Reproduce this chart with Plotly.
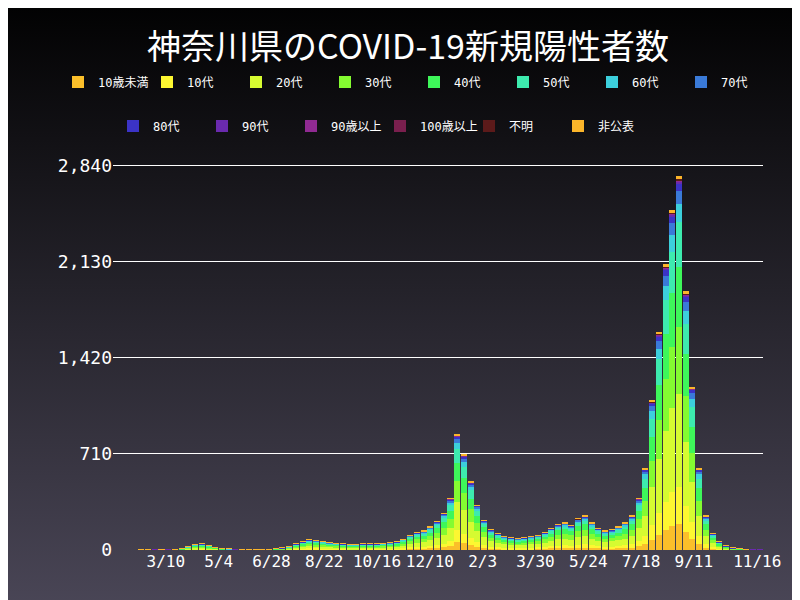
import base64
import pandas as pd
import plotly.graph_objects as go

# weekly (Mon start) daily-level case counts
week_start = pd.date_range("2020-01-13", periods=97, freq="7D")
totals = [
    0, 0, 0,
    0, 1, 3, 4,
    5, 4, 5, 10, 25,
    40, 45, 35, 20,
    12, 8, 4, 3,
    3, 3, 3, 5, 10,
    15, 25, 45, 60,
    75, 70, 65, 55, 50,
    45, 40, 40, 45,
    45, 45, 50, 55,
    60, 80, 110, 130, 140,
    170, 210, 270, 380,
    850, 700, 500, 330,
    220, 150, 120, 100,
    90, 85, 90, 100, 110,
    130, 160, 190, 200,
    180, 230, 250, 200, 160,
    140, 150, 170, 200,
    250, 380, 600, 1100,
    1600, 2100, 2500, 2750, 1900,
    1200, 600, 250, 120,
    60, 30, 15, 10,
    6, 4, 4,
]
groups = ["10歳未満", "10代", "20代", "30代", "40代", "50代", "60代", "70代",
          "80代", "90代", "90歳以上", "100歳以上", "不明", "非公表"]
shares = [0.07, 0.10, 0.25, 0.18, 0.16, 0.12, 0.05, 0.035,
          0.02, 0.005, 0.003, 0.0005, 0.002, 0.01]
colors = ["#fbbf2a", "#fdf731", "#d6fb31", "#84fb31", "#3ef75a", "#3debae",
          "#3ccfdc", "#3a7ad8", "#3b33c6", "#6a2aae", "#902a92", "#7a1f4e",
          "#5c1a1a", "#fbb52a"]
tick_dates = ["2020-03-10", "2020-05-04", "2020-06-28", "2020-08-22", "2020-10-16",
              "2020-12-10", "2021-02-03", "2021-03-30", "2021-05-24", "2021-07-18",
              "2021-09-11", "2021-11-16"]
tick_text = ["3/10", "5/4", "6/28", "8/22", "10/16", "12/10", "2/3", "3/30",
             "5/24", "7/18", "9/11", "11/16"]

font = "DejaVu Sans Mono, Noto Sans CJK JP"
x = week_start + pd.Timedelta(days=3.5)
fig = go.Figure()
for i, (g, s, c) in enumerate(zip(groups, shares, colors)):
    fig.add_trace(go.Bar(
        x=x, y=[t * s for t in totals], name=g, marker_color=c,
        marker_line_width=0, width=7 * 86400000 * 0.9,
        legend="legend" if i < 8 else "legend2",
    ))

svg = ('<svg xmlns="http://www.w3.org/2000/svg" width="10" height="100" preserveAspectRatio="none">'
       '<defs><linearGradient id="g" x1="0" y1="0" x2="0" y2="1">'
       '<stop offset="0" stop-color="#000000"/><stop offset="1" stop-color="#4c4859"/>'
       '</linearGradient></defs><rect width="10" height="100" fill="url(#g)"/></svg>')
bg = "data:image/svg+xml;base64," + base64.b64encode(svg.encode()).decode()

pw, ph, ml, mt = 650, 390, 105, 152
leg = dict(orientation="h", xanchor="left", yanchor="middle", traceorder="normal",
           font=dict(size=12), entrywidth=44, bgcolor="rgba(0,0,0,0)")
fig.update_layout(
    width=800, height=600,
    barmode="stack", bargap=0,
    paper_bgcolor="#1a1a1e", plot_bgcolor="rgba(0,0,0,0)",
    font=dict(family=font, color="white"),
    title=dict(text="神奈川県のCOVID-19新規陽性者数", x=0.5, xanchor="center",
               y=0.935, yanchor="middle",
               font=dict(size=34, color="white", family="Noto Sans CJK JP")),
    margin=dict(l=ml, r=800 - ml - pw, t=mt, b=600 - mt - ph),
    images=[dict(source=bg, xref="paper", yref="paper", x=-(ml + 20) / pw, y=1 + (mt + 20) / ph,
                 sizex=840 / pw, sizey=640 / ph, sizing="stretch", layer="below",
                 xanchor="left", yanchor="top")],
    legend=dict(leg, x=(50 - ml) / pw, y=1 + (mt - 74) / ph),
    legend2=dict(leg, x=(105 - ml) / pw, y=1 + (mt - 118) / ph),
    xaxis=dict(range=["2020-01-15", "2021-11-22"], tickvals=tick_dates, ticktext=tick_text,
               showgrid=False, tickfont=dict(size=16), tickangle=0, zeroline=False),
    yaxis=dict(range=[0, 2880], tickvals=[0, 710, 1420, 2130, 2840], tickformat=",",
               gridcolor="white", gridwidth=1, tickfont=dict(size=18), zeroline=False),
)
fig.write_html("out.html")
